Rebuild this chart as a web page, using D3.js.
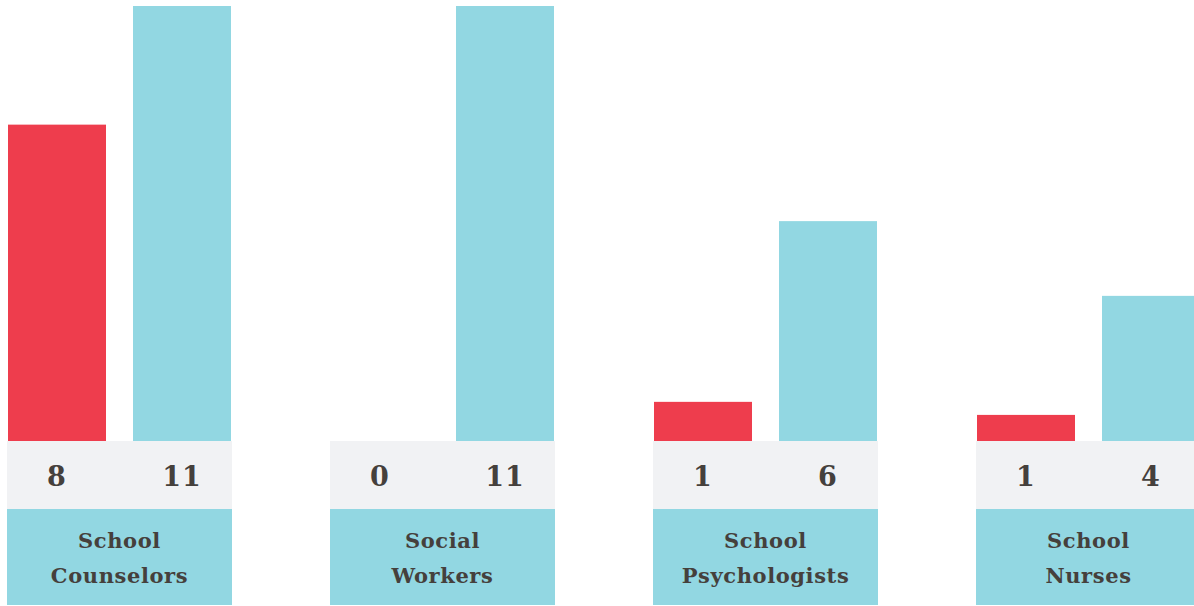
<!DOCTYPE html>
<html>
<head>
<meta charset="utf-8">
<script src="https://cdn.jsdelivr.net/npm/d3@7"></script>
<style>
  body { margin: 0; background: #fff; }
  svg { display: block; }
  text { font-family: "DejaVu Serif", "Liberation Serif", serif; font-weight: bold; fill: #45403c; }
</style>
</head>
<body>
<div id="chart"></div>
<script>
// data
var categories = ["School Counselors", "Social Workers", "School Psychologists", "School Nurses"];
var labelLines = [["School", "Counselors"], ["Social", "Workers"], ["School", "Psychologists"], ["School", "Nurses"]];
var series = ["red", "blue"];
var redValues = [8, 0, 0.99, 0.66];
var blueValues = [11, 11, 5.56, 3.67];
var redLabels = ["8", "0", "1", "1"];
var blueLabels = ["11", "11", "6", "4"];

var svgWidth = 1194, svgHeight = 606;
var colours = { red: "#ee3d4d", blue: "#92d7e2" };
var base = 441, numBottom = 509, boxBottom = 605;

var svg = d3.select("#chart").append("svg")
  .attr("width", svgWidth).attr("height", svgHeight);

// scales
var x0 = d3.scaleBand().domain(categories).range([7, 1201]).paddingInner(98 / 323);
var x1 = d3.scaleBand().domain(series).range([1, 224]).paddingInner(27 / 125);
var y = d3.scaleLinear().domain([0, 11]).range([base, 6]);

var rows = categories.map(function(c, i) {
  return { cat: c, lines: labelLines[i],
    vals: [{ s: "red", v: redValues[i], t: redLabels[i] }, { s: "blue", v: blueValues[i], t: blueLabels[i] }] };
});

var g = svg.selectAll("g.group").data(rows).enter().append("g")
  .attr("class", "group")
  .attr("transform", function(d) { return "translate(" + x0(d.cat) + ",0)"; });

// bars
g.selectAll("rect.bar").data(function(d) { return d.vals; }).enter().append("rect")
  .attr("class", "bar")
  .attr("x", function(d) { return x1(d.s); })
  .attr("y", function(d) { return y(d.v); })
  .attr("width", x1.bandwidth())
  .attr("height", function(d) { return base - y(d.v); })
  .attr("fill", function(d) { return colours[d.s]; });

// grey number strip
g.append("rect")
  .attr("x", 0).attr("y", base)
  .attr("width", x0.bandwidth()).attr("height", numBottom - base)
  .attr("fill", "#f1f2f4");

g.selectAll("text.num").data(function(d) { return d.vals; }).enter().append("text")
  .attr("class", "num")
  .attr("x", function(d) { return x1(d.s) + x1.bandwidth() / 2; })
  .attr("y", 486)
  .attr("text-anchor", "middle")
  .attr("font-size", 27)
  .attr("letter-spacing", 1)
  .text(function(d) { return d.t; });

// label box
g.append("rect")
  .attr("x", 0).attr("y", numBottom)
  .attr("width", x0.bandwidth()).attr("height", boxBottom - numBottom)
  .attr("fill", colours.blue);

g.selectAll("text.lab").data(function(d) { return d.lines; }).enter().append("text")
  .attr("class", "lab")
  .attr("x", x0.bandwidth() / 2)
  .attr("y", function(d, i) { return 548 + i * 35; })
  .attr("text-anchor", "middle")
  .attr("font-size", 21)
  .attr("letter-spacing", 0.6)
  .text(function(d) { return d; });
</script>
</body>
</html>
